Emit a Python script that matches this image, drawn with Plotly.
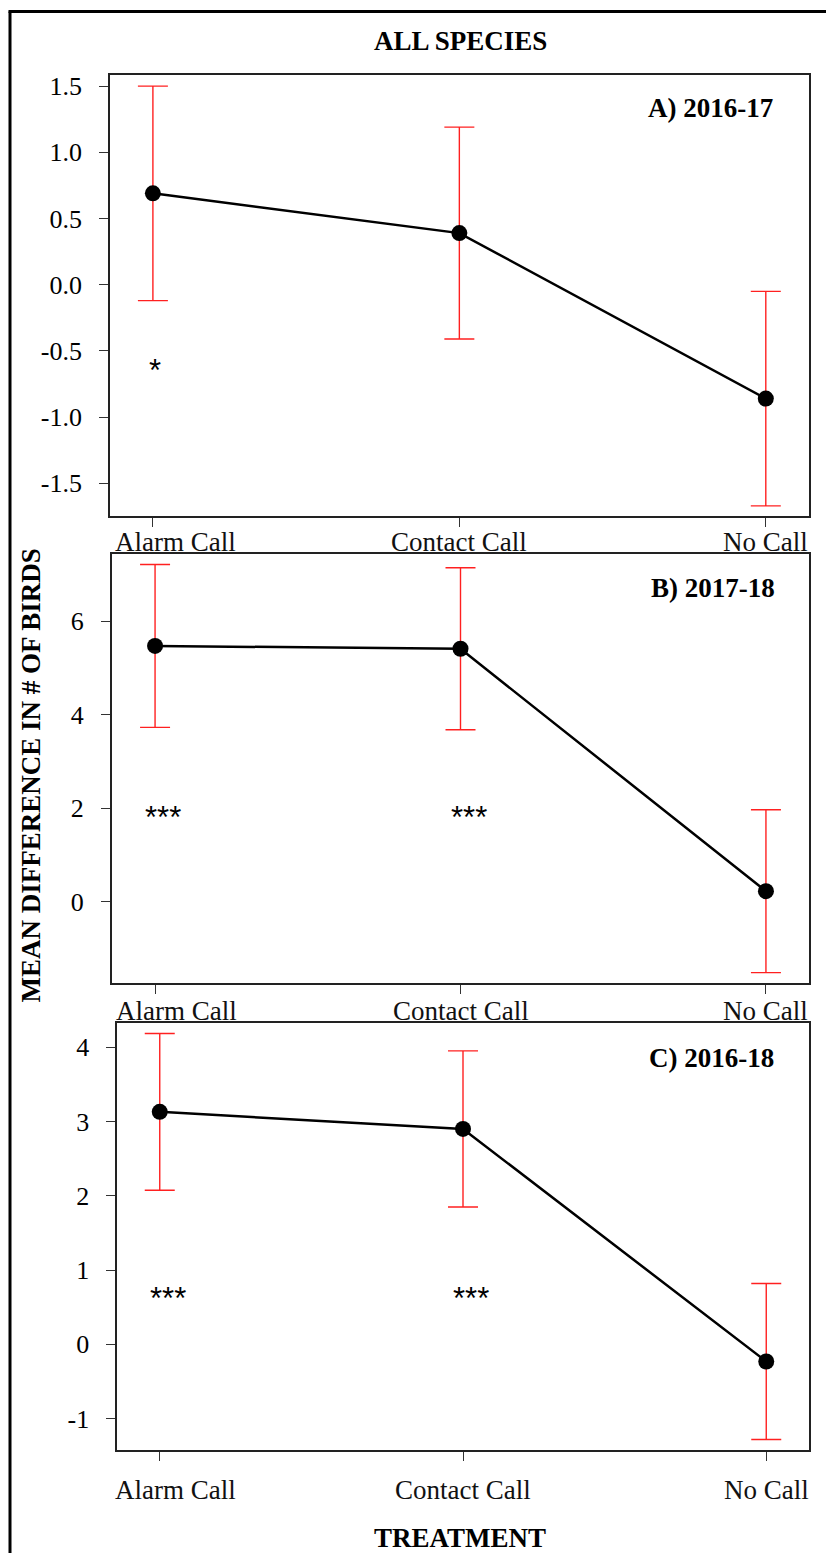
import plotly.graph_objects as go

# Treatments on the x axis
treatments = ["Alarm Call", "Contact Call", "No Call"]

# Mean difference in number of birds (and standard errors) per season
means_2016_17 = [0.69, 0.39, -0.86]
se_2016_17 = [0.81, 0.80, 0.81]

means_2017_18 = [5.47, 5.41, 0.23]
se_2017_18 = [1.74, 1.73, 1.74]

means_2016_18 = [3.13, 2.90, -0.23]
se_2016_18 = [1.055, 1.05, 1.05]

# Significance markers: (treatment, text) and their height in data units
stars_2016_17 = [("Alarm Call", "*")]
stars_2017_18 = [("Alarm Call", "***"), ("Contact Call", "***")]
stars_2016_18 = [("Alarm Call", "***"), ("Contact Call", "***")]

panel_titles = ["A) 2016-17", "B) 2017-18", "C) 2016-18"]

yticks_a = [-1.5, -1.0, -0.5, 0.0, 0.5, 1.0, 1.5]
yticks_b = [0, 2, 4, 6]
yticks_c = [-1, 0, 1, 2, 3, 4]

W, H = 826, 1553
SERIF = "Liberation Serif"
SANS = "Liberation Sans"
XRANGE = [-0.14, 2.14]


def fx(px):
    return px / W


def fy(py):
    return 1 - py / H


def fmt(v, decimals):
    return f"{v:.{decimals}f}"  # plain hyphen-minus for negatives


panels = [
    dict(means=means_2016_17, se=se_2016_17, stars=stars_2016_17, star_y=-0.63,
         yticks=yticks_a, dec=1, yrange=[-1.749, 1.585],
         box=(110, 72, 808.7, 514.3), ticklen=9, lab_off=26, alarm_shift=23,
         title=panel_titles[0], title_xy=(775, 105)),
    dict(means=means_2017_18, se=se_2017_18, stars=stars_2017_18, star_y=1.85,
         yticks=yticks_b, dec=0, yrange=[-1.727, 7.43],
         box=(112.3, 552.3, 808.7, 981.7), ticklen=9.5, lab_off=28, alarm_shift=21,
         title=panel_titles[1], title_xy=(777, 586)),
    dict(means=means_2016_18, se=se_2016_18, stars=stars_2016_18, star_y=0.645,
         yticks=yticks_c, dec=0, yrange=[-1.424, 4.325],
         box=(117.3, 1022, 808.7, 1450), ticklen=9, lab_off=40, alarm_shift=16,
         title=panel_titles[2], title_xy=(776, 1057.5)),
]

fig = go.Figure()
annotations = []
n = len(panels)

for i, p in enumerate(panels, start=1):
    xa = "x" if i == 1 else f"x{i}"
    ya = "y" if i == 1 else f"y{i}"
    fig.add_trace(go.Scatter(
        x=treatments, y=p["means"], xaxis=xa, yaxis=ya,
        mode="lines+markers",
        line=dict(color="black", width=2.5),
        marker=dict(color="black", size=16),
        error_y=dict(type="data", array=p["se"], visible=True,
                     color="#ff2020", thickness=1.4, width=15),
        showlegend=False, hoverinfo="skip",
    ))

    left, top, right, bottom = p["box"]
    axis_common = dict(showgrid=False, zeroline=False, showline=True,
                       linecolor="#222", linewidth=1.8, mirror=True,
                       ticks="outside", tickcolor="#333", tickwidth=1.3)
    fig.layout[f"xaxis{'' if i == 1 else i}"] = dict(
        axis_common, type="category", range=XRANGE,
        domain=[fx(left), fx(right)], anchor=ya,
        ticklen=p["ticklen"], showticklabels=False,
    )
    fig.layout[f"yaxis{'' if i == 1 else i}"] = dict(
        axis_common, range=p["yrange"],
        domain=[fy(bottom), fy(top)], anchor=xa,
        ticklen=p["ticklen"], tickvals=p["yticks"],
        ticktext=[fmt(v, p["dec"]) for v in p["yticks"]],
        tickfont=dict(family=SERIF, size=26, color="black"),
        ticklabelstandoff=12,
    )

    # short mirrored ticks on the top and right edges
    k = i + n
    fig.layout[f"xaxis{k}"] = dict(
        overlaying=xa, side="top", anchor=ya, range=XRANGE,
        tickvals=list(range(len(treatments))), showticklabels=False,
        ticks="outside", ticklen=3, tickcolor="#444", tickwidth=1.2,
        showgrid=False, zeroline=False, showline=False,
    )
    fig.layout[f"yaxis{k}"] = dict(
        overlaying=ya, side="right", anchor=xa, range=p["yrange"],
        tickvals=p["yticks"], showticklabels=False,
        ticks="outside", ticklen=3, tickcolor="#444", tickwidth=1.2,
        showgrid=False, zeroline=False, showline=False,
    )

    # treatment labels under each panel
    for t in treatments:
        annotations.append(dict(
            x=t, xref=xa, y=0, yref=f"{ya} domain", yanchor="middle",
            yshift=-p["lab_off"], xanchor="center",
            xshift=p["alarm_shift"] if t == "Alarm Call" else 0,
            text=t, showarrow=False,
            font=dict(family=SERIF, size=27, color="#111"),
        ))

    # significance stars
    for t, s in p["stars"]:
        annotations.append(dict(
            x=t, xref=xa, y=p["star_y"], yref=ya, yanchor="middle",
            xanchor="center", xshift=8 if len(s) == 3 else 2, yshift=-2,
            text=s, showarrow=False,
            font=dict(family=SANS, size=31, color="black"),
        ))

    # panel label
    tx, ty = p["title_xy"]
    annotations.append(dict(
        x=fx(tx), y=fy(ty), xref="paper", yref="paper",
        xanchor="right", yanchor="middle", text=f"<b>{p['title']}</b>",
        showarrow=False, font=dict(family=SERIF, size=27, color="black"),
    ))

# overall title and axis titles
annotations.append(dict(
    x=fx(460), y=fy(38.5), xref="paper", yref="paper",
    xanchor="center", yanchor="middle", text="<b>ALL SPECIES</b>",
    showarrow=False, font=dict(family=SERIF, size=27, color="black"),
))
annotations.append(dict(
    x=fx(31), y=fy(774), xref="paper", yref="paper",
    xanchor="center", yanchor="middle", textangle=-90,
    text="<b>MEAN DIFFERENCE IN # OF BIRDS</b>",
    showarrow=False, font=dict(family=SERIF, size=27, color="black"),
))
annotations.append(dict(
    x=fx(460), y=fy(1538), xref="paper", yref="paper",
    xanchor="center", yanchor="middle", text="<b>TREATMENT</b>",
    showarrow=False, font=dict(family=SERIF, size=27, color="black"),
))

# outer frame (left and top edges)
shapes = [
    dict(type="line", xref="paper", yref="paper", x0=fx(10), x1=fx(10),
         y0=fy(8.5), y1=0, line=dict(color="black", width=3)),
    dict(type="line", xref="paper", yref="paper", x0=fx(8.5), x1=1,
         y0=fy(8.5), y1=fy(8.5), line=dict(color="black", width=3)),
]

fig.update_layout(
    width=W, height=H,
    margin=dict(l=0, r=0, t=0, b=0),
    paper_bgcolor="white", plot_bgcolor="white",
    annotations=annotations, shapes=shapes,
    font=dict(family=SERIF, color="black"),
)

fig.write_html("out.html")
